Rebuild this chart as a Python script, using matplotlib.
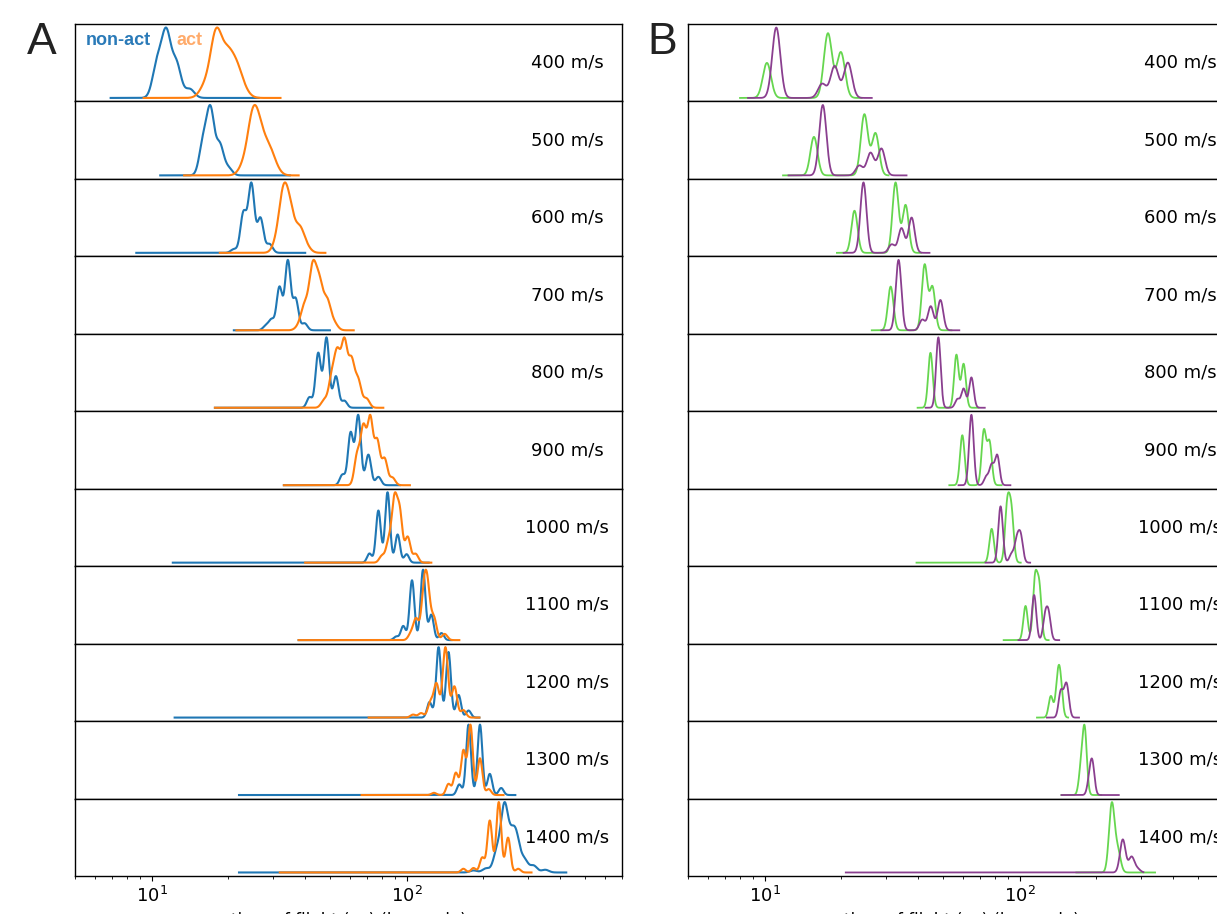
import numpy as np
import matplotlib
matplotlib.use("Agg")
import matplotlib.pyplot as plt

speeds = [400, 500, 600, 700, 800, 900, 1000, 1100, 1200, 1300, 1400]

# panel A -- peaks are (centre, relative height)
a_blue_peaks = [
    [(10.5, 0.45), (11.4, 0.85), (12.5, 0.45), (14.1, 0.12)],
    [(15.9, 0.45), (17.0, 0.9), (18.5, 0.42), (20.0, 0.1)],
    [(21.0, 0.05), (22.9, 0.55), (24.6, 0.95), (26.7, 0.48), (29.0, 0.12)],
    [(28.0, 0.06), (29.5, 0.15), (31.7, 0.62), (34.2, 1.0), (36.7, 0.45), (39.8, 0.1)],
    [(41.6, 0.15), (45.0, 0.78), (48.5, 1.0), (52.8, 0.45), (57.0, 0.1)],
    [(56.0, 0.15), (60.3, 0.75), (64.6, 1.0), (70.8, 0.44), (77.5, 0.12)],
    [(71.5, 0.13), (77.5, 0.74), (84.2, 1.0), (92.2, 0.4), (100, 0.12)],
    [(91, 0.05), (97, 0.2), (105, 0.85), (116, 1.0), (125, 0.36), (137, 0.1)],
    [(123, 0.22), (133.5, 1.0), (146, 0.93), (160, 0.32), (175, 0.1)],
    [(161, 0.15), (175, 1.0), (194, 1.0), (212, 0.3), (235, 0.1)],
    [(183, 0.03), (205, 0.06), (226, 0.3), (242, 0.95), (258, 0.4), (270, 0.45), (290, 0.18),
     (315, 0.1), (350, 0.04)],
]
a_blue_range = [(6.9, 26.3), (10.8, 34.8), (8.7, 40), (21, 50), (17.7, 73), (33, 94),
                (12.1, 122), (37.7, 150), (12.3, 193), (22, 267), (22, 423)]
a_blue_width = [0.018, 0.015, 0.012, 0.011, 0.0105, 0.0105, 0.0095, 0.0095, 0.0095, 0.0095, 0.014]

a_orange_peaks = [
    [(16.2, 0.15), (17.9, 0.85), (19.8, 0.5), (21.5, 0.35), (23.0, 0.08)],
    [(23.0, 0.15), (24.9, 0.85), (26.6, 0.55), (28.8, 0.35), (30.5, 0.1)],
    [(31.0, 0.15), (32.9, 0.85), (35.0, 0.55), (38.1, 0.35), (40.5, 0.08)],
    [(37.7, 0.05), (39.8, 0.35), (42.8, 0.9), (45.5, 0.65), (48.8, 0.42), (52.0, 0.1)],
    [(47.5, 0.1), (50.8, 0.38), (53.5, 0.68), (57.0, 0.85), (60.8, 0.6), (64.6, 0.35), (69.6, 0.12)],
    [(64.0, 0.4), (67.7, 0.75), (72.0, 0.88), (76.7, 0.58), (82.0, 0.35), (88.0, 0.1)],
    [(80, 0.1), (85, 0.3), (89.6, 0.9), (94.0, 0.72), (101, 0.38), (108.5, 0.13)],
    [(104, 0.12), (109, 0.4), (117, 0.88), (121, 0.85), (128, 0.42), (141, 0.12)],
    [(106, 0.04), (114, 0.06), (124, 0.2), (131, 0.45), (142, 0.95), (154, 0.42), (167, 0.1)],
    [(128, 0.03), (146, 0.15), (156, 0.3), (167, 0.6), (178, 0.95), (194, 0.5), (210, 0.08)],
    [(167, 0.05), (183, 0.06), (198, 0.2), (212, 0.7), (230, 0.95), (250, 0.47), (274, 0.05)],
]
a_orange_range = [(9.3, 32), (13.4, 37.7), (18.5, 48), (21.5, 62), (17.7, 81), (33, 103),
                  (40, 125), (37.7, 161), (71, 193), (66.6, 240), (31.8, 309)]
a_orange_width = [0.022, 0.02, 0.017, 0.014, 0.012, 0.011, 0.0105, 0.0105, 0.0105, 0.0095, 0.0095]

# panel B
b_green_peaks = [
    [(10.2, 0.5), (17.7, 0.92), (19.9, 0.65)],
    [(15.6, 0.55), (24.6, 0.87), (27.2, 0.6)],
    [(22.5, 0.6), (32.6, 1.0), (35.7, 0.68)],
    [(31.2, 0.63), (42.4, 0.94), (45.5, 0.62)],
    [(44.7, 0.78), (56.5, 0.75), (60.3, 0.62)],
    [(59.6, 0.74), (72.4, 0.8), (76.2, 0.63)],
    [(77.7, 0.6), (89.5, 1.0), (92.9, 0.85)],
    [(105.5, 0.57), (115, 1.0), (119.5, 0.85)],
    [(132.6, 0.5), (141, 0.75), (144.5, 0.75)],
    [(174, 0.38), (180, 1.0)],
    [(230, 1.0), (243, 0.3)],
]
b_green_range = [(8.0, 24.0), (11.8, 30.6), (19.2, 41), (26.3, 54), (39.8, 69), (53, 85),
                 (39.4, 101), (86.6, 130), (117, 155), (146, 209), (167, 340)]

b_purple_peaks = [
    [(11.1, 1.0), (16.8, 0.2), (18.8, 0.45), (21.2, 0.5)],
    [(16.9, 1.0), (23.5, 0.14), (26.0, 0.32), (28.7, 0.38)],
    [(24.4, 1.0), (31.5, 0.12), (34.4, 0.35), (37.7, 0.5)],
    [(33.5, 1.0), (41.5, 0.15), (44.8, 0.34), (48.9, 0.43)],
    [(48.0, 1.0), (57, 0.12), (60.3, 0.27), (64.7, 0.43)],
    [(64.7, 1.0), (74, 0.12), (77.7, 0.28), (81.7, 0.42)],
    [(84.2, 0.8), (93, 0.12), (97.5, 0.3), (101, 0.36)],
    [(114, 0.64), (126, 0.32), (130, 0.34)],
    [(145, 0.5), (151, 0.36), (154, 0.4)],
    [(188, 0.25), (193, 0.52)],
    [(254, 0.47), (275, 0.22), (290, 0.05)],
]
b_purple_range = [(8.6, 26.3), (12.4, 36), (20.4, 44.3), (28.7, 58), (42.8, 73), (57.6, 92),
                  (73.5, 110), (99, 143), (128, 171), (146, 245), (20.8, 306)]
b_width = [0.016, 0.014, 0.012, 0.011, 0.009, 0.009, 0.009, 0.0085, 0.0085, 0.0085, 0.011]


def density(peaks, lo, hi, w, top):
    x = np.logspace(np.log10(lo), np.log10(hi), 900)
    lx = np.log10(x)
    y = np.zeros_like(x)
    for c, h in peaks:
        y += h * np.exp(-0.5 * ((lx - np.log10(c)) / w) ** 2)
    y = y / y.max() * top
    return x, y


W, H = 1217, 914
fig = plt.figure(figsize=(W / 100, H / 100), dpi=100)

n = len(speeds)
top_px, bot_px = 24, 876
row_h = (bot_px - top_px) / n
ax_w = 547


def make_axes(left_px, i):
    y0 = H - (top_px + (i + 1) * row_h)
    return fig.add_axes([left_px / W, y0 / H, ax_w / W, row_h / H])


def style(ax, i, label):
    ax.set_xscale("log")
    ax.set_xlim(5, 700)
    ax.set_ylim(-0.05, 1.05)
    ax.set_yticks([])
    for s in ax.spines.values():
        s.set_linewidth(1.0)
    ax.text(0.9, 0.5, label, transform=ax.transAxes, ha="center", va="center", fontsize=13)
    if i < n - 1:
        ax.tick_params(axis="x", which="both", bottom=False, labelbottom=False)
    else:
        ax.tick_params(axis="x", which="both", labelsize=13)
        ax.set_xlabel("time of flight (μs) (log scale)", fontsize=12, labelpad=4.5)


for i, sp in enumerate(speeds):
    label = f"{sp} m/s"

    ax = make_axes(75, i)
    x, y = density(a_blue_peaks[i], *a_blue_range[i], a_blue_width[i], 1.0)
    ax.plot(x, y, color="#1f77b4", lw=1.5)
    x, y = density(a_orange_peaks[i], *a_orange_range[i], a_orange_width[i], 1.0)
    ax.plot(x, y, color="#ff7f0e", lw=1.5)
    style(ax, i, label)
    if i == 0:
        ax.text(0.02, 0.79, "non-act", transform=ax.transAxes, ha="left", va="center",
                fontsize=13, fontweight="bold", family="Liberation Sans", color="#2a7ab8")
        ax.text(0.185, 0.79, "act", transform=ax.transAxes, ha="left", va="center",
                fontsize=13, fontweight="bold", family="Liberation Sans", color="#ffab6b")

    ax = make_axes(688, i)
    top_g = max(h for _, h in b_green_peaks[i])
    top_p = max(h for _, h in b_purple_peaks[i])
    x, y = density(b_green_peaks[i], *b_green_range[i], b_width[i], top_g)
    ax.plot(x, y, color="#66d64f", lw=1.3)
    x, y = density(b_purple_peaks[i], *b_purple_range[i], b_width[i], top_p)
    ax.plot(x, y, color="#8a3f8f", lw=1.3)
    style(ax, i, label)

fig.text(42 / W, 1 - 42 / H, "A", fontsize=32, family="Liberation Sans", color="#222222",
         ha="center", va="center")
fig.text(662 / W, 1 - 42 / H, "B", fontsize=32, family="Liberation Sans", color="#222222",
         ha="center", va="center")

fig.savefig("out.png", dpi=100)
